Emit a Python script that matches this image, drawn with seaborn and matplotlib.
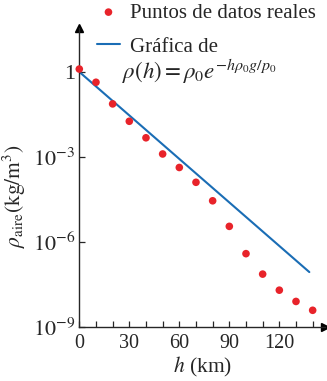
import numpy as np
import pandas as pd
import matplotlib
matplotlib.use("Agg")
import matplotlib.pyplot as plt
import seaborn as sns

# datos
altura_km = [0, 10, 20, 30, 40, 50, 60, 70, 80, 90, 100, 110, 120, 130, 140]
densidad = [1.26, 0.43, 0.074, 0.018, 4.7e-3, 1.26e-3, 4.2e-4, 1.26e-4,
            2.8e-5, 3.5e-6, 3.8e-7, 7.2e-8, 1.95e-8, 7.8e-9, 3.8e-9]

# recta del modelo exponencial (extremos)
altura_modelo = [0, 138]
densidad_modelo = [1.0, 8.5e-8]

xticks = [0, 30, 60, 90, 120]
yticks = [1, 1e-3, 1e-6, 1e-9]
ytick_labels = ["1", r"$10^{-3}$", r"$10^{-6}$", r"$10^{-9}$"]

sns.set_style("ticks")
plt.rcParams["font.family"] = ["Liberation Serif", "DejaVu Serif"]
plt.rcParams["mathtext.fontset"] = "stix"

rojo = "#e8232a"
azul = "#1a6db5"

df_puntos = pd.DataFrame({"h": altura_km, "rho": densidad})
df_modelo = pd.DataFrame({"h": altura_modelo, "rho": densidad_modelo})

fig = plt.figure(figsize=(3.27, 3.81), dpi=100)
ax = fig.add_axes([79.3 / 327, (381 - 326.7) / 381, (325 - 79.3) / 327, (326.7 - 28) / 381])

sns.lineplot(data=df_modelo, x="h", y="rho", ax=ax, color=azul, linewidth=1.5,
             label="Gráfica de")
sns.scatterplot(data=df_puntos, x="h", y="rho", ax=ax, color=rojo, s=30,
                edgecolor="none", label="Puntos de datos reales", zorder=5,
                clip_on=False)

ax.set_yscale("log")
ax.set_xlim(0, 147.4)
ax.set_ylim(1e-9, 10 ** 1.55)
ax.set_xticks(np.arange(0, 141, 10), minor=True)
ax.set_xticks(xticks)
ax.set_yticks(yticks)
ax.set_yticklabels(ytick_labels)
ax.yaxis.set_minor_locator(matplotlib.ticker.NullLocator())
ax.tick_params(axis="both", which="both", direction="in", length=4.5, width=0.9,
               pad=3)
ax.tick_params(axis="x", labelsize=14.5, pad=5)
ax.tick_params(axis="y", labelsize=16)

for lado in ["top", "right"]:
    ax.spines[lado].set_visible(False)
for lado in ["left", "bottom"]:
    ax.spines[lado].set_linewidth(1.0)

# flechas en los ejes
ax.plot(1, 0, ">k", transform=ax.transAxes, clip_on=False, markersize=6)
ax.plot(0, 1, "^k", transform=ax.transAxes, clip_on=False, markersize=6)

ax.set_xlabel(r"$h$ (km)", fontsize=15.5, labelpad=2)
ax.set_ylabel(r"$\rho_{\mathrm{aire}}(\mathrm{kg/m^3})$", fontsize=15.5)
ax.yaxis.set_label_coords(-0.21, 0.4375)

# leyenda
handles, labels = ax.get_legend_handles_labels()
orden = [1, 0]
ax.legend([handles[i] for i in orden], [labels[i] for i in orden],
          loc="upper left", bbox_to_anchor=(97 / 327, 1 - 3 / 381),
          bbox_transform=fig.transFigure, frameon=False, fontsize=15,
          handlelength=1.1, handletextpad=0.5, labelspacing=0.7,
          borderpad=0, borderaxespad=0)
fig.text(122 / 327, 1 - 72 / 381, r"$\rho(h) = \rho_0 e^{-h\rho_0 g/p_0}$",
         fontsize=16.5, va="center", ha="left")

fig.savefig("out.png", dpi=100)
